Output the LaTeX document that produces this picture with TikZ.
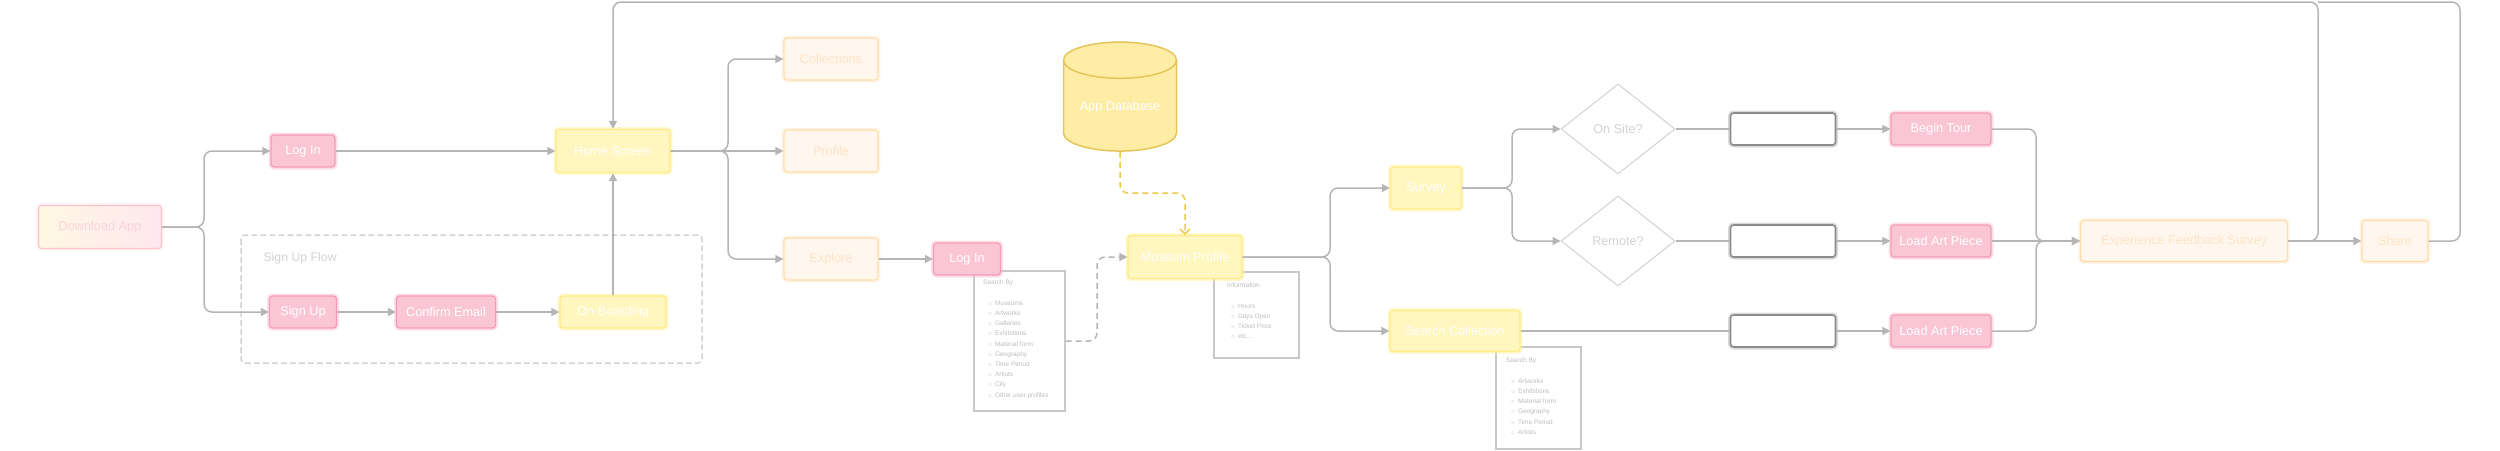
\documentclass[tikz,border=0pt]{standalone}
\usepackage{fontspec}
\setmainfont{Liberation Sans}
\usetikzlibrary{positioning}
\usetikzlibrary{shapes.geometric}
\usetikzlibrary{arrows.meta}

\definecolor{linegray}{HTML}{B5B5B5}
\definecolor{pinkfill}{HTML}{FAC6D5}
\definecolor{pinkline}{HTML}{F59BB6}
\definecolor{pinkglow}{HTML}{FBB8CC}
\definecolor{yelfill}{HTML}{FFF6C0}
\definecolor{yelline}{HTML}{FFEB82}
\definecolor{yelglow}{HTML}{FFF09A}
\definecolor{orafill}{HTML}{FFF7EE}
\definecolor{oraline}{HTML}{FFDCAA}
\definecolor{oraglow}{HTML}{FFE9CC}
\definecolor{oratext}{HTML}{FFE3C6}
\definecolor{dlleft}{HTML}{FFF8E2}
\definecolor{dlright}{HTML}{FDE7EF}
\definecolor{dlline}{HTML}{FFC3CC}
\definecolor{dltext}{HTML}{FAD3DC}
\definecolor{dbfill}{HTML}{FFEDA6}
\definecolor{dbline}{HTML}{E5C55A}
\definecolor{dbdash}{HTML}{EBC84A}
\definecolor{notegray}{HTML}{C8C8C8}
\definecolor{notetext}{HTML}{BDBDBD}
\definecolor{softgray}{HTML}{D2D2D2}

\begin{document}
\begin{tikzpicture}[
        x = 1pt, y = -1pt,
        box/.style = {
            draw,
            rounded corners = 3pt,
            line width = 1.2pt,
            inner sep = 0pt,
            minimum width = #1,
            font = \fontsize{12.7}{15}\selectfont
        },
        pinkbox/.style = {box=#1, fill=pinkfill, draw=pinkline, text=white,
            minimum height=32pt,
            preaction={draw=pinkglow, line width=5pt, opacity=0.45}},
        yelbox/.style = {box=#1, fill=yelfill, draw=yelline, text=white,
            preaction={draw=yelglow, line width=5pt, opacity=0.45}},
        orabox/.style = {box=#1, fill=orafill, draw=oraline, text=oratext,
            minimum height=42pt,
            preaction={draw=oraglow, line width=5pt, opacity=0.45}},
        blankbox/.style = {draw=black!45, fill=white, line width=1.6pt,
            rounded corners=3pt, minimum width=105pt, minimum height=32pt,
            preaction={draw=black!40, line width=5pt, opacity=0.35}},
        choice/.style = {diamond, draw=softgray, line width=1pt, aspect=1.27,
            minimum width=114pt, minimum height=90pt, inner sep=0pt,
            text=softgray, font=\fontsize{12.7}{15}\selectfont},
        notebox/.style = {draw=notegray, line width=1.2pt, fill=white, inner sep=0pt},
        notetxt/.style = {anchor=north west, inner sep=0pt, align=left,
            text=notetext, font=\fontsize{6.5}{10.2}\selectfont},
        conn/.style = {draw=linegray, line width=1.5pt, rounded corners=8pt},
        arr/.style = {conn, -{Triangle[length=8pt, width=8pt]}},
        node distance = {5mm}
        ]
        \useasboundingbox (0,0) rectangle (2500,450);
%
        % sign up group
        \draw[softgray, line width=1.5pt, dashed, dash pattern=on 6pt off 3pt, rounded corners=4pt]
            (241,235) rectangle (702,363);
        \node[text=softgray, font=\fontsize{12.3}{15}\selectfont, anchor=west] (flowlbl) at (260,258) {Sign Up Flow};
%
        % notes
        \node[notebox, minimum width=91pt, minimum height=140pt] (searchnote) at (1019.5,341) {};
        \node[notetxt] (searchlist) at (983,280) {Search By\\[10.2pt]
            \hspace{5pt}$\circ$\hspace{3pt}Museums\\
            \hspace{5pt}$\circ$\hspace{3pt}Artworks\\
            \hspace{5pt}$\circ$\hspace{3pt}Galleries\\
            \hspace{5pt}$\circ$\hspace{3pt}Exhibitions\\
            \hspace{5pt}$\circ$\hspace{3pt}Material form\\
            \hspace{5pt}$\circ$\hspace{3pt}Geography\\
            \hspace{5pt}$\circ$\hspace{3pt}Time Period\\
            \hspace{5pt}$\circ$\hspace{3pt}Artists\\
            \hspace{5pt}$\circ$\hspace{3pt}City\\
            \hspace{5pt}$\circ$\hspace{3pt}Other user profiles};
        \node[notebox, minimum width=85pt, minimum height=86pt] (infonote) at (1256.5,315) {};
        \node[notetxt] (infolist) at (1227,283) {Information\\[10.2pt]
            \hspace{4pt}$\circ$\hspace{3pt}Hours\\
            \hspace{4pt}$\circ$\hspace{3pt}Days Open\\
            \hspace{4pt}$\circ$\hspace{3pt}Ticket Price\\
            \hspace{4pt}$\circ$\hspace{3pt}etc...};
        \node[notebox, minimum width=85pt, minimum height=102pt] (colnote) at (1538.5,398) {};
        \node[notetxt] (collist) at (1506,358) {Search By\\[10.2pt]
            \hspace{5pt}$\circ$\hspace{3pt}Artworks\\
            \hspace{5pt}$\circ$\hspace{3pt}Exhibitions\\
            \hspace{5pt}$\circ$\hspace{3pt}Material form\\
            \hspace{5pt}$\circ$\hspace{3pt}Geography\\
            \hspace{5pt}$\circ$\hspace{3pt}Time Period\\
            \hspace{5pt}$\circ$\hspace{3pt}Artists};
%
        % left part
        \node[box=123pt, minimum height=43pt, left color=dlleft, right color=dlright, draw=dlline,
              text=dltext, preaction={draw=dlline!40, line width=5pt, opacity=0.45}] (dl) at (100,227) {Download App};
        \node[pinkbox=64pt] (login) at (303,151) {Log In};
        \node[yelbox=114pt, minimum height=43pt] (home) at (613,151) {Home Screen};
        \node[pinkbox=67pt] (signup) at (303,312) {Sign Up};
        \node[pinkbox=99pt] (confirm) at (446,312) {Confirm Email};
        \node[yelbox=106pt, minimum height=32pt] (onboard) at (613,312) {On-Boarding};
%
        \node[orabox=94pt] (collections) at (831,59) {Collections};
        \node[orabox=94pt] (profile) at (831,151) {Profile};
        \node[orabox=94pt] (explore) at (831,259) {Explore};
        \node[pinkbox=67pt] (login2) at (967,259) {Log In};
%
        % database
        \node[cylinder, shape border rotate=90, aspect=0.45, draw=dbline, fill=dbfill, line width=1.5pt,
              minimum height=109pt, minimum width=113pt, inner sep=0pt,
              text=white, font=\fontsize{12.7}{15}\selectfont] (db) at (1120,106) {\raisebox{-11pt}{App Database}};
        \node[yelbox=114pt, minimum height=43pt] (mp) at (1185,257) {Museum Profile};
%
        % middle part
        \node[yelbox=71pt, minimum height=42pt] (survey) at (1426,188) {Survey};
        \node[yelbox=130pt, minimum height=41pt] (searchcol) at (1455,331) {Search Collection};
        \node[choice] (onsite) at (1618,129) {On Site?};
        \node[choice] (remote) at (1618,241) {Remote?};
        \node[blankbox] (blank1) at (1783,129) {};
        \node[blankbox] (blank2) at (1783,241) {};
        \node[blankbox] (blank3) at (1783,331) {};
        \node[pinkbox=100pt] (tour) at (1941,129) {Begin Tour};
        \node[pinkbox=100pt] (load1) at (1941,241) {Load Art Piece};
        \node[pinkbox=100pt] (load2) at (1941,331) {Load Art Piece};
%
        % right part
        \node[orabox=207pt, minimum height=41pt] (feedback) at (2184,241) {Experience Feedback Survey};
        \node[orabox=66pt, minimum height=41pt] (share) at (2395,241) {Share};
%
        \coordinate (split1) at (204,227);
        \coordinate (split2) at (728,151);
        \coordinate (dashturn) at (1097,257);
        \coordinate (dbturn) at (1185,193);
        \coordinate (split3) at (1330,257);
        \coordinate (split4) at (1512,188);
        \coordinate (join) at (2036,241);
        \coordinate (loop1) at (2318,2);
        \coordinate (loop2) at (2460,2);
%
        \draw[arr] (dl.east) -- (split1) |- (login.west);
        \draw[arr] (dl.east) -- (split1) |- (signup.west);
        \draw[arr] (login) -- (home);
        \draw[arr] (signup) -- (confirm);
        \draw[arr] (confirm) -- (onboard);
        \draw[arr] (onboard) -- (home);
%
        \draw[arr] (home.east) -- (split2) |- (collections.west);
        \draw[arr] (home.east) -- (profile.west);
        \draw[arr] (home.east) -- (split2) |- (explore.west);
        \draw[arr] (explore) -- (login2);
%
        \draw[arr, dashed, dash pattern=on 6pt off 4pt] (searchnote.east) -| (dashturn) -- (mp.west);
        \draw[draw=dbdash, line width=1.5pt, rounded corners=8pt, dashed, dash pattern=on 6pt off 4pt,
              -{Straight Barb[length=5pt, width=10pt]}] (db.south) |- (dbturn) -- (mp.north);
%
        \draw[arr] (mp.east) -- (split3) |- (survey.west);
        \draw[arr] (mp.east) -- (split3) |- (searchcol.west);
        \draw[arr] (survey.east) -- (split4) |- (onsite.west);
        \draw[arr] (survey.east) -- (split4) |- (remote.west);
%
        \draw[conn] (onsite.east) -- (blank1.west);
        \draw[conn] (remote.east) -- (blank2.west);
        \draw[conn] (searchcol.east) -- (blank3.west);
        \draw[arr] (blank1) -- (tour);
        \draw[arr] (blank2) -- (load1);
        \draw[arr] (blank3) -- (load2);
%
        \draw[arr] (tour.east) -| (join) -- (feedback.west);
        \draw[arr] (load1) -- (feedback);
        \draw[arr] (load2.east) -| (join) -- (feedback.west);
        \draw[arr] (feedback) -- (share);
%
        \draw[arr] (feedback.east) -| (loop1) -| (home.north);
        \draw[conn] (share.east) -| (loop2) -- (loop1);
%
    \end{tikzpicture}
\end{document}
